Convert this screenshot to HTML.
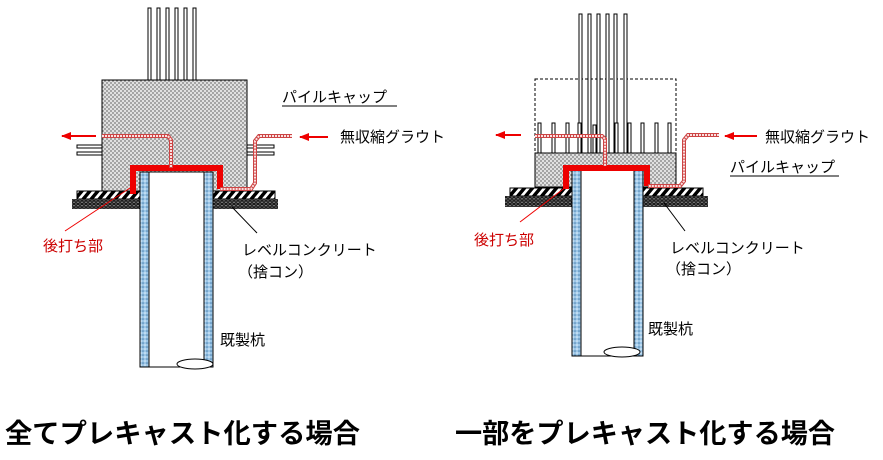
<!DOCTYPE html>
<html><head><meta charset="utf-8"><style>
body{margin:0;background:#fff}
svg{display:block}
text{font-family:"Liberation Sans","Noto Sans CJK JP",sans-serif}
</style></head><body>
<svg width="883" height="460" viewBox="0 0 883 460" xmlns="http://www.w3.org/2000/svg">
<defs>
<pattern id="cc" width="4" height="4" patternUnits="userSpaceOnUse"><rect width="4" height="4" fill="#e0e0e0"/><circle cx="1" cy="1" r="0.9" fill="#7a7a7a"/><circle cx="3" cy="3" r="0.9" fill="#7a7a7a"/></pattern>
<pattern id="bl" width="4" height="4" patternUnits="userSpaceOnUse"><rect width="4" height="4" fill="#9cc6e6"/><circle cx="1" cy="1" r="0.8" fill="#e8f4ff"/><circle cx="3" cy="3" r="0.8" fill="#4a7fae"/></pattern>
<pattern id="gr" width="4" height="3.4" patternUnits="userSpaceOnUse"><rect width="4" height="3.4" fill="#555"/><circle cx="2" cy="1.7" r="1.7" fill="#111"/><circle cx="2" cy="1.7" r="0.7" fill="#bbb"/></pattern>
<pattern id="ht" width="8" height="8" patternUnits="userSpaceOnUse" patternTransform="skewX(-40)"><rect width="8" height="8" fill="#fff"/><rect width="4.5" height="8" fill="#000"/></pattern>
<marker id="ar" markerWidth="10" markerHeight="8" refX="9" refY="4" orient="auto" markerUnits="userSpaceOnUse"><path d="M0,0 L10,4 L0,8 z" fill="#e00"/></marker>
</defs>

<!-- LEFT FIGURE -->
<g stroke="#000" stroke-width="1" fill="#fff">
<rect x="148" y="8" width="3" height="73"/><rect x="157" y="8" width="3" height="73"/><rect x="166" y="8" width="3" height="73"/><rect x="175" y="8" width="3" height="73"/><rect x="184" y="8" width="3" height="73"/><rect x="193" y="8" width="3" height="73"/>
<rect x="77" y="145" width="26" height="3"/><rect x="77" y="152" width="26" height="3"/>
<rect x="246" y="145" width="28" height="3"/><rect x="246" y="152" width="28" height="3"/>
<rect x="102" y="80" width="145" height="112" fill="url(#cc)"/>
<rect x="77" y="191" width="198" height="8" fill="url(#ht)"/>
<rect x="72" y="199" width="206" height="10" fill="url(#gr)" stroke="none"/>
<rect x="140" y="172" width="73" height="195" fill="#fff"/>
<rect x="140" y="172" width="9" height="195" fill="url(#bl)"/>
<rect x="204" y="172" width="9" height="195" fill="url(#bl)"/>
<ellipse cx="195" cy="364" rx="18" ry="5" fill="#fff"/>
</g>
<path d="M133,194 V168 H220 V189" fill="none" stroke="#e00" stroke-width="6"/>
<g fill="none">
<path d="M102,136 H168 L171,140 V168" stroke="#c44" stroke-width="4"/>
<path d="M102,136 H168 L171,140 V168" stroke="#fbe0e0" stroke-width="2" stroke-dasharray="2,1"/>
<path d="M292,136 H259 L255,141 V183 L251,189 H220" stroke="#c44" stroke-width="4"/>
<path d="M292,136 H259 L255,141 V183 L251,189 H220" stroke="#fbe0e0" stroke-width="2" stroke-dasharray="2,1"/>
</g>
<line x1="96" y1="136" x2="62" y2="136" stroke="#e00" stroke-width="2" marker-end="url(#ar)"/>
<line x1="328" y1="137" x2="300" y2="137" stroke="#e00" stroke-width="2" marker-end="url(#ar)"/>
<line x1="65" y1="231" x2="133" y2="186" stroke="#e00" stroke-width="1"/>
<line x1="257" y1="233" x2="232" y2="207" stroke="#000" stroke-width="1"/>
<g font-size="15" fill="#000">
<text x="282" y="102">パイルキャップ</text><line x1="282" y1="106" x2="397" y2="106" stroke="#000"/>
<text x="340" y="142">無収縮グラウト</text>
<text x="43" y="251" fill="#c00">後打ち部</text>
<text x="242" y="255">レベルコンクリート</text>
<text x="238" y="277">（捨コン）</text>
<text x="220" y="345">既製杭</text>
</g>

<!-- RIGHT FIGURE -->
<g stroke="#000" stroke-width="1" fill="#fff">
<rect x="535" y="79" width="141" height="75" fill="none" stroke-dasharray="3,2"/>
<rect x="579" y="14" width="3" height="145"/><rect x="588" y="14" width="3" height="145"/><rect x="597" y="14" width="3" height="145"/><rect x="606" y="14" width="3" height="145"/><rect x="614" y="14" width="3" height="145"/><rect x="624" y="14" width="3" height="145"/>
<rect x="538" y="123" width="3" height="31"/><rect x="552" y="123" width="3" height="31"/><rect x="566" y="123" width="3" height="31"/><rect x="578" y="123" width="3" height="31"/><rect x="593" y="125" width="3" height="29"/><rect x="615" y="123" width="3" height="31"/><rect x="628" y="123" width="3" height="31"/><rect x="641" y="123" width="3" height="31"/><rect x="655" y="123" width="3" height="31"/><rect x="668" y="123" width="3" height="31"/>
<rect x="535" y="153" width="141" height="34" fill="url(#cc)"/>
<rect x="510" y="188" width="193" height="8" fill="url(#ht)"/>
<rect x="505" y="196" width="203" height="11" fill="url(#gr)" stroke="none"/>
<rect x="572" y="170" width="71" height="186" fill="#fff"/>
<rect x="572" y="170" width="9" height="186" fill="url(#bl)"/>
<rect x="634" y="170" width="9" height="186" fill="url(#bl)"/>
<ellipse cx="622" cy="352" rx="18" ry="5" fill="#fff"/>
</g>
<path d="M566,189 V168 H647 V186" fill="none" stroke="#e00" stroke-width="6"/>
<g fill="none">
<path d="M535,136 H602 L605,139 V166" stroke="#c44" stroke-width="4"/>
<path d="M535,136 H602 L605,139 V166" stroke="#fbe0e0" stroke-width="2" stroke-dasharray="2,1"/>
<path d="M719,135 H688 L684,140 V181 L680,186 H648" stroke="#c44" stroke-width="4"/>
<path d="M719,135 H688 L684,140 V181 L680,186 H648" stroke="#fbe0e0" stroke-width="2" stroke-dasharray="2,1"/>
</g>
<line x1="521" y1="135" x2="496" y2="135" stroke="#e00" stroke-width="2" marker-end="url(#ar)"/>
<line x1="757" y1="136" x2="725" y2="136" stroke="#e00" stroke-width="2" marker-end="url(#ar)"/>
<line x1="520" y1="222" x2="566" y2="187" stroke="#e00" stroke-width="1"/>
<line x1="685" y1="231" x2="664" y2="203" stroke="#000" stroke-width="1"/>
<g font-size="15" fill="#000">
<text x="765" y="142">無収縮グラウト</text>
<text x="730" y="172">パイルキャップ</text><line x1="730" y1="176" x2="839" y2="176" stroke="#000"/>
<text x="474" y="245" fill="#c00">後打ち部</text>
<text x="670" y="253">レベルコンクリート</text>
<text x="666" y="274">（捨コン）</text>
<text x="648" y="334">既製杭</text>
</g>

<text x="5" y="443" font-size="27" font-weight="bold" textLength="355" lengthAdjust="spacingAndGlyphs">全てプレキャスト化する場合</text>
<text x="455" y="443" font-size="27" font-weight="bold" textLength="380" lengthAdjust="spacingAndGlyphs">一部をプレキャスト化する場合</text>
</svg>
</body></html>
